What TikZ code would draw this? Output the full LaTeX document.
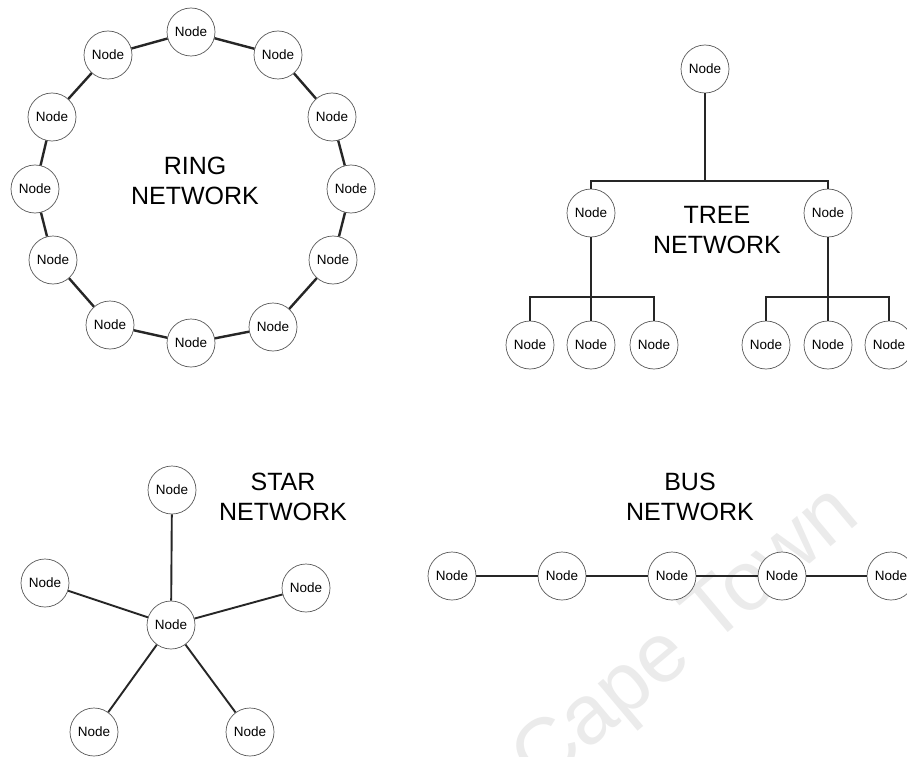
\documentclass[tikz,border=0pt]{standalone}
\usepackage{fontspec}
\setmainfont{Liberation Sans}
\begin{document}
\begin{tikzpicture}[x=1pt,y=-1pt]
\tikzset{
  pc/.style={circle, draw=black!65, line width=0.7pt, fill=white,
    minimum size=48pt, inner sep=0pt, font=\fontsize{13.5}{14}\selectfont},
  ringlink/.style={line width=2.4pt, draw=black!85},
  link/.style={line width=1.9pt, draw=black!85},
  title/.style={align=center, font=\fontsize{25}{30}\selectfont},
  watermark/.style={text=black!8, font=\fontsize{84}{84}\selectfont}
}
\useasboundingbox (0,0) rectangle (907,757);
\clip (0,0) rectangle (907,757);
\fill[white] (0,0) rectangle (907,757);

% faint watermark behind the drawing
\node[watermark, rotate=40] (wm) at (688,640) {Cape Town};

% ---------------- ring network ----------------
\node[title] (ringtitle) at (195,181) {RING\\NETWORK};
\foreach \n/\x/\y in {r1/191/32, r2/278/55, r3/332/117, r4/351/189, r5/333/260,
  r6/273/327, r7/191/343, r8/110/325, r9/53/260, r10/35/189, r11/52/117, r12/108/55}
  \node[pc] (\n) at (\x,\y) {Node};
\foreach \a/\b in {r1/r2, r2/r3, r3/r4, r4/r5, r5/r6, r6/r7, r7/r8, r8/r9,
  r9/r10, r10/r11, r11/r12, r12/r1}
  \draw[ringlink] (\a) -- (\b);

% ---------------- tree network ----------------
\node[title] (treetitle) at (717,230) {TREE\\NETWORK};
\node[pc] (root) at (705,69) {Node};
\node[pc] (ml) at (591,213) {Node};
\node[pc] (mr) at (828,213) {Node};
\node[pc] (l1) at (530,345) {Node};
\node[pc] (l2) at (591,345) {Node};
\node[pc] (l3) at (654,345) {Node};
\node[pc] (l4) at (766,345) {Node};
\node[pc] (l5) at (828,345) {Node};
\node[pc] (l6) at (889,345) {Node};
\coordinate (tj) at (705,181);
\coordinate (lj) at (591,297);
\coordinate (rj) at (828,297);
\draw[link] (root) -- (tj);
\draw[link] (ml) |- (tj) -| (mr);
\draw[link] (ml) -- (l2);
\draw[link] (l1) |- (lj) -| (l3);
\draw[link] (mr) -- (l5);
\draw[link] (l4) |- (rj) -| (l6);

% ---------------- star network ----------------
\node[title] (startitle) at (283,497) {STAR\\NETWORK};
\node[pc] (hub) at (171,625) {Node};
\node[pc] (s1) at (172,490) {Node};
\node[pc] (s2) at (306,588) {Node};
\node[pc] (s3) at (250,732) {Node};
\node[pc] (s4) at (94,732) {Node};
\node[pc] (s5) at (45,583) {Node};
\foreach \s in {s1,s2,s3,s4,s5}
  \draw[link] (hub) -- (\s);

% ---------------- bus network ----------------
\node[title] (bustitle) at (690,497) {BUS\\NETWORK};
\foreach \n/\x in {b1/452, b2/562, b3/672, b4/782, b5/891}
  \node[pc] (\n) at (\x,576) {Node};
\foreach \a/\b in {b1/b2, b2/b3, b3/b4, b4/b5}
  \draw[link] (\a) -- (\b);
\end{tikzpicture}
\end{document}
